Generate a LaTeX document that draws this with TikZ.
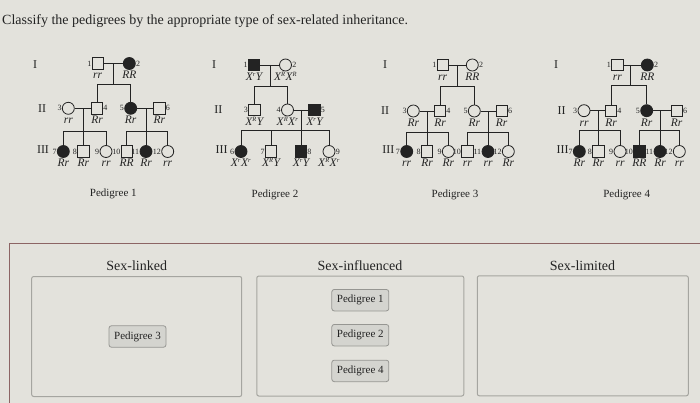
\documentclass[tikz,border=0pt]{standalone}
\usepackage{fontspec}
\setmainfont{Liberation Serif}
\usetikzlibrary{positioning}
\definecolor{bg}{RGB}{227,226,220}
\definecolor{ink}{RGB}{35,35,35}
\definecolor{framecol}{RGB}{140,100,100}
\definecolor{boxline}{RGB}{165,165,160}
\definecolor{btnfill}{RGB}{212,212,207}
\definecolor{btnline}{RGB}{150,150,146}
\tikzset{
  msq/.style={draw=ink, line width=0.8pt, minimum size=11.3pt, inner sep=0pt, fill=bg},
  msqf/.style={msq, fill=ink},
  fci/.style={draw=ink, circle, line width=0.8pt, minimum size=12pt, inner sep=0pt, fill=bg},
  fcif/.style={fci, fill=ink},
  numlbl/.style={font=\fontsize{8}{9}\selectfont, inner sep=0.2pt, text=ink},
  genot/.style={font=\fontsize{11.5}{12}\selectfont\itshape, inner sep=0pt, text=ink, anchor=base},
  romlbl/.style={font=\fontsize{12}{13}\selectfont, inner sep=0pt, text=ink},
  pedcap/.style={font=\fontsize{11}{13}\selectfont, inner sep=0pt, text=ink},
  pline/.style={draw=ink, line width=0.8pt},
  hdr/.style={font=\fontsize{14}{16}\selectfont, inner sep=0pt, text=ink},
  binbox/.style={draw=boxline, line width=1pt, rounded corners=2pt, minimum width=210pt, minimum height=120pt, inner sep=0pt},
  btnbox/.style={draw=btnline, fill=btnfill, line width=0.8pt, rounded corners=2.5pt, minimum width=57pt, minimum height=21.5pt, inner sep=0pt, font=\fontsize{11}{13}\selectfont, text=ink},
}
% name, x, y, style, number, side, genotype
\newcommand\pers[7]{%
  \node[#4] (#1) at (#2,#3) {};
  \node[numlbl,#6=0pt of #1] (#1n) {#5};
  \node[genot] (#1g) at (#2,#3+15.5) {#7};
}
\newcommand\supx[1]{\textsuperscript{\fontsize{6.5}{6.5}\selectfont #1}}
\begin{document}
\begin{tikzpicture}[x=1pt,y=-1pt]
\useasboundingbox (0,0) rectangle (700,403);
\fill[bg] (0,0) rectangle (700,403);

\node[anchor=base west, inner sep=0pt, font=\fontsize{14}{16}\selectfont, text=ink] (title) at (2,25)
  {Classify the pedigrees by the appropriate type of sex-related inheritance.};

%% ---------------- Pedigree 1 ----------------
\node[romlbl] (AI) at (35,65) {I};
\node[romlbl] (AII) at (42,108.3) {II};
\node[romlbl] (AIII) at (43,150) {III};
\pers{A1}{97.7}{63.5}{msq}{1}{left}{rr}
\pers{A2}{129.3}{63.5}{fcif}{2}{right}{RR}
\pers{A3}{68.3}{108.3}{fci}{3}{left}{rr}
\pers{A4}{97}{108.3}{msq}{4}{right}{Rr}
\pers{A5}{130.7}{108.3}{fcif}{5}{left}{Rr}
\pers{A6}{159.3}{108.3}{msq}{6}{right}{Rr}
\pers{A7}{63.3}{151.5}{fcif}{7}{left}{Rr}
\pers{A8}{83.3}{151.5}{msq}{8}{left}{Rr}
\pers{A9}{106}{151.5}{fci}{9}{left}{rr}
\pers{A10}{126.7}{151.5}{msq}{10}{left}{RR}
\pers{A11}{146}{151.5}{fcif}{11}{left}{Rr}
\pers{A12}{167.7}{151.5}{fci}{12}{left}{rr}
\coordinate (Am1) at (113.5,63.5); \coordinate (As1) at (113.5,84.3);
\coordinate (Am2) at (83.3,108.3); \coordinate (As2) at (83.3,131);
\coordinate (Am3) at (146,108.3);  \coordinate (As3) at (146,131);
\draw[pline] (A1) -- (A2); \draw[pline] (A3) -- (A4); \draw[pline] (A5) -- (A6);
\draw[pline] (Am1) -- (As1); \draw[pline] (Am2) -- (As2); \draw[pline] (Am3) -- (As3);
\draw[pline] (A4.north |- As1) -- (A5.north |- As1);
\draw[pline] (A7.north |- As2) -- (A9.north |- As2);
\draw[pline] (A10.north |- As3) -- (A12.north |- As3);
\foreach \c in {A4,A5} \draw[pline] (\c.north) -- (\c.north |- As1);
\foreach \c in {A7,A8,A9} \draw[pline] (\c.north) -- (\c.north |- As2);
\foreach \c in {A10,A11,A12} \draw[pline] (\c.north) -- (\c.north |- As3);
\node[pedcap] (Acap) at (113.3,194) {Pedigree 1};

%% ---------------- Pedigree 2 ----------------
\node[romlbl] (BI) at (214,65) {I};
\node[romlbl] (BII) at (218.3,110) {II};
\node[romlbl] (BIII) at (221.7,150) {III};
\pers{B1}{254}{65}{msqf}{1}{left}{X\supx{r}Y}
\pers{B2}{285.5}{65}{fci}{2}{right}{X\supx{R}X\supx{R}}
\pers{B3}{254.3}{110}{msq}{3}{left}{X\supx{R}Y}
\pers{B4}{287.5}{110}{fci}{4}{left}{X\supx{R}X\supx{r}}
\pers{B5}{314.5}{110}{msqf}{5}{right}{X\supx{r}Y}
\pers{B6}{241}{151.5}{fcif}{6}{left}{X\supx{r}X\supx{r}}
\pers{B7}{271}{151.5}{msq}{7}{left}{X\supx{R}Y}
\pers{B8}{301}{151.5}{msqf}{8}{right}{X\supx{r}Y}
\pers{B9}{329}{151.5}{fci}{9}{right}{X\supx{R}X\supx{r}}
\coordinate (Bm1) at (270,65); \coordinate (Bs1) at (270,86.5);
\coordinate (Bm2) at (301,110);  \coordinate (Bs2) at (301,130);
\draw[pline] (B1) -- (B2); \draw[pline] (B4) -- (B5);
\draw[pline] (Bm1) -- (Bs1); \draw[pline] (Bm2) -- (Bs2);
\draw[pline] (B3.north |- Bs1) -- (B4.north |- Bs1);
\draw[pline] (B6.north |- Bs2) -- (B9.north |- Bs2);
\foreach \c in {B3,B4} \draw[pline] (\c.north) -- (\c.north |- Bs1);
\foreach \c in {B6,B7,B8,B9} \draw[pline] (\c.north) -- (\c.north |- Bs2);
\node[pedcap] (Bcap) at (275,195) {Pedigree 2};

%% ---------------- Pedigree 3 ----------------
\node[romlbl] (CI) at (385,65) {I};
\node[romlbl] (CII) at (385,111) {II};
\node[romlbl] (CIII) at (388.3,150) {III};
\pers{C1}{442.7}{65}{msq}{1}{left}{rr}
\pers{C2}{472.3}{65}{fci}{2}{right}{RR}
\pers{C3}{413.3}{111}{fci}{3}{left}{Rr}
\pers{C4}{440}{111}{msq}{4}{right}{Rr}
\pers{C5}{474.3}{111}{fci}{5}{left}{Rr}
\pers{C6}{501.7}{111}{msq}{6}{right}{Rr}
\pers{C7}{406.7}{151.5}{fcif}{7}{left}{rr}
\pers{C8}{427}{151.5}{msq}{8}{left}{Rr}
\pers{C9}{448.3}{151.5}{fci}{9}{left}{Rr}
\pers{C10}{467.3}{151.5}{msq}{10}{left}{rr}
\pers{C11}{488}{151.5}{fcif}{11}{left}{rr}
\pers{C12}{508.3}{151.5}{fci}{12}{left}{Rr}
\coordinate (Cm1) at (457.3,65); \coordinate (Cs1) at (457.3,86);
\coordinate (Cm2) at (427,111);   \coordinate (Cs2) at (427,132);
\coordinate (Cm3) at (488,111);   \coordinate (Cs3) at (488,132);
\draw[pline] (C1) -- (C2); \draw[pline] (C3) -- (C4); \draw[pline] (C5) -- (C6);
\draw[pline] (Cm1) -- (Cs1); \draw[pline] (Cm2) -- (Cs2); \draw[pline] (Cm3) -- (Cs3);
\draw[pline] (C4.north |- Cs1) -- (C5.north |- Cs1);
\draw[pline] (C7.north |- Cs2) -- (C9.north |- Cs2);
\draw[pline] (C10.north |- Cs3) -- (C12.north |- Cs3);
\foreach \c in {C4,C5} \draw[pline] (\c.north) -- (\c.north |- Cs1);
\foreach \c in {C7,C8,C9} \draw[pline] (\c.north) -- (\c.north |- Cs2);
\foreach \c in {C10,C11,C12} \draw[pline] (\c.north) -- (\c.north |- Cs3);
\node[pedcap] (Ccap) at (455,195) {Pedigree 3};

%% ---------------- Pedigree 4 ----------------
\node[romlbl] (DI) at (556,65) {I};
\node[romlbl] (DII) at (561.7,110.7) {II};
\node[romlbl] (DIII) at (562.7,150) {III};
\pers{D1}{617.3}{65}{msq}{1}{left}{rr}
\pers{D2}{647.3}{65}{fcif}{2}{right}{RR}
\pers{D3}{584}{110.7}{fci}{3}{left}{rr}
\pers{D4}{611}{110.7}{msq}{4}{right}{Rr}
\pers{D5}{646.7}{110.7}{fcif}{5}{left}{Rr}
\pers{D6}{676.7}{110.7}{msq}{6}{right}{Rr}
\pers{D7}{579.3}{151.5}{fcif}{7}{left}{Rr}
\pers{D8}{598.3}{151.5}{msq}{8}{left}{Rr}
\pers{D9}{620}{151.5}{fci}{9}{left}{rr}
\pers{D10}{639.3}{151.5}{msqf}{10}{left}{RR}
\pers{D11}{660}{151.5}{fcif}{11}{left}{Rr}
\pers{D12}{679.3}{151.5}{fci}{12}{left}{rr}
\coordinate (Dm1) at (630,65);     \coordinate (Ds1) at (630,85);
\coordinate (Dm2) at (598.3,110.7); \coordinate (Ds2) at (598.3,130);
\coordinate (Dm3) at (660,110.7);   \coordinate (Ds3) at (660,130);
\draw[pline] (D1) -- (D2); \draw[pline] (D3) -- (D4); \draw[pline] (D5) -- (D6);
\draw[pline] (Dm1) -- (Ds1); \draw[pline] (Dm2) -- (Ds2); \draw[pline] (Dm3) -- (Ds3);
\draw[pline] (D4.north |- Ds1) -- (D5.north |- Ds1);
\draw[pline] (D7.north |- Ds2) -- (D9.north |- Ds2);
\draw[pline] (D10.north |- Ds3) -- (D12.north |- Ds3);
\foreach \c in {D4,D5} \draw[pline] (\c.north) -- (\c.north |- Ds1);
\foreach \c in {D7,D8,D9} \draw[pline] (\c.north) -- (\c.north |- Ds2);
\foreach \c in {D10,D11,D12} \draw[pline] (\c.north) -- (\c.north |- Ds3);
\node[pedcap] (Dcap) at (626.7,195) {Pedigree 4};

%% ---------------- Answer area ----------------
\draw[framecol, line width=1.3pt] (9.3,404) -- (9.3,243.3) -- (701,243.3);
\node[hdr] (hlink) at (136.7,265.7) {Sex-linked};
\node[hdr] (hinf) at (360,265.7) {Sex-influenced};
\node[hdr] (hlim) at (582.5,265.7) {Sex-limited};
\node[binbox] (blink) at (136.7,336.5) {};
\node[binbox, minimum width=207pt] (binf) at (360.3,336) {};
\node[binbox, minimum width=211pt] (blim) at (582.8,335.8) {};
\node[btnbox] (p3) at (137.5,336.5) {Pedigree 3};
\node[btnbox] (p1) at (360.3,300.2) {Pedigree 1};
\node[btnbox] (p2) at (360.3,335.2) {Pedigree 2};
\node[btnbox] (p4) at (360.3,370.9) {Pedigree 4};
\end{tikzpicture}
\end{document}
